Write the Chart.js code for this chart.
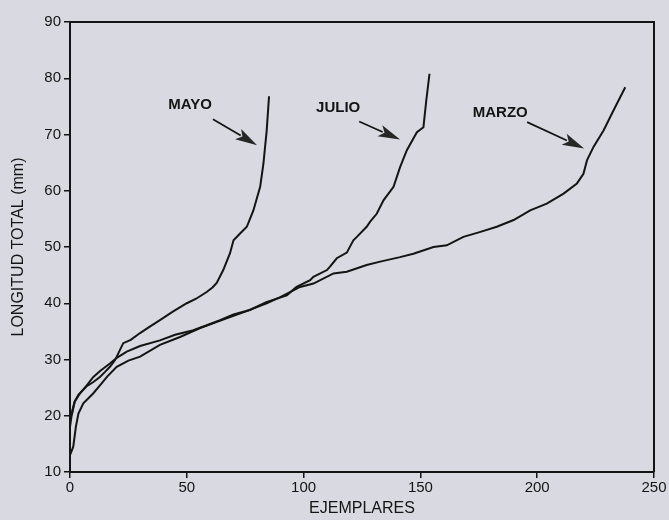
<!DOCTYPE html>
<html><head><meta charset="utf-8">
<script src="https://cdn.jsdelivr.net/npm/chart.js@4"></script>
<style>html,body{margin:0;padding:0;background:#d9d9e1;overflow:hidden}#wrap{width:669px;height:520px}</style>
</head><body><div id="wrap"><canvas id="c" width="669" height="520"></canvas></div>
<script>
// ---- data ----
const seriesNames = ['MAYO', 'JULIO', 'MARZO'];
const mayoN = [0, 1, 2, 3.6, 7, 10, 12.8, 15, 17.1, 19.3, 21.4, 22.8, 26, 30, 34, 38.5, 44, 50, 54, 58.5, 61, 62.8, 65.6, 68.5, 70, 72.8, 75.7, 78.5, 81.4, 82.8, 84.2, 85.2];
const mayoL = [19.5, 20.5, 22.5, 23.7, 25.2, 26, 26.9, 27.8, 28.7, 29.9, 31.7, 32.9, 33.5, 34.7, 35.8, 37, 38.5, 40, 40.8, 42, 42.8, 43.6, 45.9, 48.9, 51.2, 52.4, 53.6, 56.5, 60.7, 64.8, 70.7, 76.8];
const julioN = [0, 1, 2, 4.3, 7, 10, 13, 17.1, 20, 24.3, 30, 38.5, 45, 52.8, 58, 64.2, 70, 77, 84, 92.8, 97, 102.8, 104.2, 110, 111.3, 114.2, 118.5, 121.3, 122.8, 127, 128.5, 131.3, 134.2, 138.5, 141.3, 144.2, 148.5, 151.3, 152.5, 153.9];
const julioL = [18, 21, 22.5, 24, 25.3, 26.9, 28, 29.3, 30.3, 31.4, 32.4, 33.4, 34.4, 35.2, 36, 37, 38, 38.8, 40.2, 41.4, 42.9, 44.1, 44.7, 45.9, 46.5, 48, 49, 51.2, 51.8, 53.6, 54.5, 55.9, 58.3, 60.7, 64.2, 67.2, 70.4, 71.3, 76, 80.8];
const marzoN = [0, 1.4, 2.5, 3.6, 5.7, 10, 13, 16, 20, 25, 30, 38.5, 47.1, 55.7, 65, 75, 84.2, 90, 98.5, 104.2, 112.8, 118.5, 127, 132.8, 141.3, 147, 155.6, 161.3, 168.4, 175, 182.7, 189.9, 197, 204.1, 211.3, 217, 219.8, 221.3, 224.1, 228.4, 232.7, 237.7];
const marzoL = [13, 14.5, 18, 20.4, 22.2, 24, 25.5, 27, 28.7, 29.8, 30.5, 32.6, 34, 35.6, 37, 38.5, 40, 41.1, 42.9, 43.5, 45.3, 45.6, 46.8, 47.4, 48.2, 48.8, 50, 50.3, 51.8, 52.6, 53.6, 54.8, 56.5, 57.7, 59.5, 61.3, 63, 65.4, 67.8, 70.7, 74.3, 78.4];
const xTicks = [0, 50, 100, 150, 200, 250];
const yTicks = [10, 20, 30, 40, 50, 60, 70, 80, 90];
const xTitle = 'EJEMPLARES';
const yTitle = 'LONGITUD TOTAL (mm)';
// label anchor and arrow (tail -> tip) in data units
const labelAt = [[51.4, 75.2], [114.8, 74.7], [184.2, 73.9]];
const arrowFrom = [[61.2, 72.7], [123.8, 72.3], [195.7, 72.2]];
const arrowTo = [[80.1, 68.1], [141.3, 69.1], [220.1, 67.5]];

const BG = '#d9d9e1';
const INK = '#141414';
const FAMILY = '"Liberation Sans", Arial, sans-serif';
const pts = (n, l) => n.map((v, i) => ({x: v, y: l[i]}));
const seriesData = [pts(mayoN, mayoL), pts(julioN, julioL), pts(marzoN, marzoL)];

const bgPlugin = {
  id: 'bg',
  beforeDraw(chart) {
    const c = chart.ctx; c.save(); c.fillStyle = BG; c.fillRect(0, 0, chart.width, chart.height); c.restore();
  }
};
const framePlugin = {
  id: 'frame',
  afterDraw(chart) {
    const {ctx, chartArea: a} = chart;
    ctx.save(); ctx.strokeStyle = INK; ctx.lineWidth = 2;
    ctx.beginPath();
    ctx.moveTo(a.left, a.top); ctx.lineTo(a.right, a.top); ctx.lineTo(a.right, a.bottom);
    ctx.stroke(); ctx.restore();
  }
};
const notePlugin = {
  id: 'notes',
  afterDatasetsDraw(chart) {
    const {ctx, scales: {x, y}} = chart;
    ctx.save();
    seriesNames.forEach((name, i) => {
      ctx.fillStyle = INK;
      ctx.font = 'bold 15px ' + FAMILY;
      ctx.textAlign = 'center'; ctx.textBaseline = 'middle';
      ctx.fillText(name, x.getPixelForValue(labelAt[i][0]), y.getPixelForValue(labelAt[i][1]));
      const x0 = x.getPixelForValue(arrowFrom[i][0]), y0 = y.getPixelForValue(arrowFrom[i][1]);
      const x1 = x.getPixelForValue(arrowTo[i][0]), y1 = y.getPixelForValue(arrowTo[i][1]);
      const ang = Math.atan2(y1 - y0, x1 - x0);
      const hl = 22, hw = 6;
      const bx = x1 - hl * Math.cos(ang), by = y1 - hl * Math.sin(ang);
      ctx.strokeStyle = INK; ctx.lineWidth = 1.7;
      ctx.beginPath(); ctx.moveTo(x0, y0); ctx.lineTo(bx + 3 * Math.cos(ang), by + 3 * Math.sin(ang)); ctx.stroke();
      ctx.fillStyle = '#262626';
      ctx.beginPath();
      ctx.moveTo(x1, y1);
      ctx.lineTo(bx + hw * Math.sin(ang), by - hw * Math.cos(ang));
      ctx.lineTo(bx + 5 * Math.cos(ang), by + 5 * Math.sin(ang));
      ctx.lineTo(bx - hw * Math.sin(ang), by + hw * Math.cos(ang));
      ctx.closePath(); ctx.fill();
    });
    ctx.restore();
  }
};

const tickFont = {family: FAMILY, size: 15};
new Chart(document.getElementById('c'), {
  type: 'scatter',
  data: {
    datasets: seriesNames.map((name, i) => ({
      label: name,
      data: seriesData[i],
      showLine: true,
      borderColor: INK,
      backgroundColor: INK,
      borderWidth: 2,
      pointRadius: 0,
      tension: 0
    }))
  },
  options: {
    responsive: false,
    devicePixelRatio: 1,
    animation: false,
    layout: {padding: {left: 0, right: 15, top: 22, bottom: 0}},
    plugins: {legend: {display: false}, tooltip: {enabled: false}},
    scales: {
      x: {
        type: 'linear', min: 0, max: 250,
        afterBuildTicks: s => { s.ticks = xTicks.map(v => ({value: v})); },
        afterFit: s => { s.height = 48; },
        border: {display: true, color: INK, width: 2},
        grid: {display: true, drawOnChartArea: false, drawTicks: true, tickLength: 6, color: INK, lineWidth: 1.5},
        ticks: {color: INK, font: tickFont, padding: 1, maxRotation: 0},
        title: {display: true, text: xTitle, color: INK, font: {family: FAMILY, size: 16}, padding: {top: 0, bottom: 2}}
      },
      y: {
        type: 'linear', min: 10, max: 90,
        afterBuildTicks: s => { s.ticks = yTicks.map(v => ({value: v})); },
        afterFit: s => { s.width = 70; },
        border: {display: true, color: INK, width: 2},
        grid: {display: true, drawOnChartArea: false, drawTicks: true, tickLength: 6, color: INK, lineWidth: 1.5},
        ticks: {color: INK, font: tickFont, padding: 3},
        title: {display: true, text: yTitle, color: INK, font: {family: FAMILY, size: 16}, padding: {top: 9, bottom: 0}}
      }
    }
  },
  plugins: [bgPlugin, framePlugin, notePlugin]
});
</script></body></html>
